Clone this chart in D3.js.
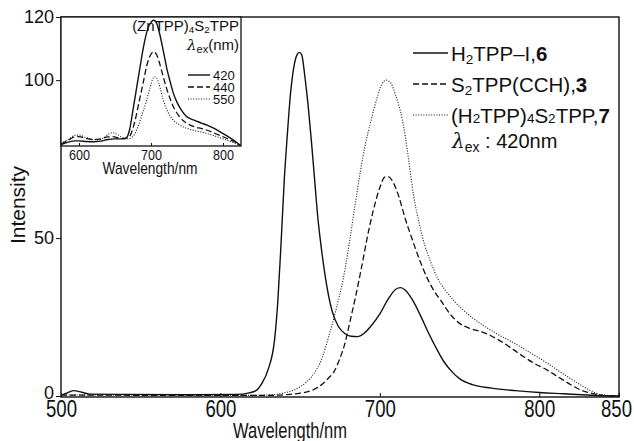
<!DOCTYPE html>
<html>
<head>
<meta charset="utf-8">
<script src="https://cdn.jsdelivr.net/npm/d3@7"></script>
<style>
  body { margin: 0; background: #fff; }
  svg { display: block; }
  text { font-family: Arial, "Liberation Sans", sans-serif; fill: #111; }
</style>
</head>
<body>
<div id="chart"></div>
<script>
// main spectra, excitation 420 nm
const wl6 = [500, 503, 508, 513, 518, 540, 580, 610, 618, 622, 626, 630, 634, 636, 638, 640, 642, 644, 646, 648, 649.5, 651, 653, 655, 657, 659, 661, 663, 666, 670, 674, 678, 682, 686, 690, 695, 700, 705, 710, 713, 716, 720, 725, 730, 735, 740, 745, 750, 758, 770, 785, 800, 815, 830, 840, 850];
const int6 = [0.2, 0.8, 1.7, 1.2, 0.6, 0.5, 0.4, 0.5, 1.0, 1.6, 4, 8.5, 18, 30, 48, 68, 83, 96, 104, 108, 108.8, 108, 101, 92, 81, 69, 57, 48, 37, 27, 22, 19.8, 18.9, 18.8, 19.8, 22.5, 26, 30.5, 33.8, 34.3, 33.5, 30.8, 26, 20.5, 15.5, 11, 7.8, 5.5, 3.6, 2.5, 1.7, 1.1, 0.7, 0.3, 0.1, 0];

const wl3 = [500, 520, 560, 600, 630, 640, 650, 658, 664, 668, 671, 675, 678, 681, 685, 689, 692, 696, 700, 703, 705, 708, 712, 716, 720, 725, 730, 735, 738, 744, 750, 757, 764, 770, 777, 784, 790, 797, 805, 812, 820, 826, 833, 840, 850];
const int3 = [0.3, 0.3, 0.2, 0.2, 0.2, 0.4, 0.9, 1.9, 3.8, 5.8, 7.5, 12, 16.5, 23, 32, 42, 50, 59, 66, 69.3, 69.5, 68, 63, 56, 50, 43, 37, 32.5, 30.4, 26, 23, 21.3, 20.3, 19, 17, 14.6, 12.5, 10.3, 8.2, 6, 3.5, 1.9, 0.8, 0.2, 0];

const wl7 = [500, 560, 620, 629, 640, 650, 657, 664, 668, 673, 677, 681, 684, 687.6, 691, 694, 698, 701, 704, 707, 710, 713, 716, 718, 721, 725, 728, 731.5, 736, 741, 746, 755, 763, 773, 784, 795, 805, 815, 826, 833, 838, 850];
const int7 = [0.3, 0.3, 0.2, 0.3, 1.0, 2.9, 6, 12.4, 19, 28.3, 37, 49, 59, 70.5, 80, 86.3, 94, 98.5, 100, 99, 95, 90, 82, 75, 64, 54, 48, 43, 37.5, 33.5, 30.4, 26, 23, 19.8, 16.8, 13.5, 10.4, 7, 3.5, 1.5, 0.5, 0];

// inset: (ZnTPP)4S2TPP at three excitation wavelengths, relative scale
const wlA = [575, 585, 595, 600, 610, 620, 630, 640, 650, 660, 666, 670, 675, 680, 685, 690, 695, 700, 704, 708, 712, 717, 722, 727, 731, 736, 742, 749, 760, 770, 777, 787, 796, 805, 815, 824];
const intA = [1, 3, 4, 4, 3.5, 3.3, 3.8, 5, 5.5, 5.5, 6.5, 12, 28, 45, 62, 78, 90, 96, 97.5, 95, 87, 74, 60, 49, 41, 34, 28, 23, 20, 17.8, 16.3, 13.8, 11, 8, 4.5, 0.5];

const wlB = [575, 585, 593, 600, 610, 620, 630, 640, 647, 655, 663, 667, 671, 675, 678, 683, 689, 694, 698, 701, 704, 708, 712, 717, 722, 727, 731, 738, 745, 750, 760, 770, 777, 790, 805, 815, 824];
const intB = [1.5, 4.5, 6.8, 7.2, 5.8, 5, 5.5, 7, 7.2, 6.2, 5.8, 6.5, 8, 14, 20, 33, 48.6, 62, 69, 72, 73, 70.5, 64, 53.7, 44, 36, 30.5, 24, 19.5, 17.6, 15, 13.5, 12.4, 9.5, 6, 3.5, 0.5];

const wlC = [575, 585, 593, 600, 610, 620, 627, 635, 642, 647, 653, 660, 664, 668, 673, 677, 682, 688, 694, 699, 702, 705, 708, 711, 714, 717, 722, 727, 731, 740, 750, 760, 770, 777, 790, 805, 815, 824];
const intC = [2, 5, 8, 8.5, 6.5, 5, 4.7, 6.5, 9.5, 10.3, 9, 6.5, 5.4, 5.5, 6.5, 9, 15, 25, 35.7, 46, 51.5, 53.7, 52.5, 48.5, 42, 35.7, 28, 23, 20, 16.3, 13.7, 12, 10.8, 9.8, 7.5, 4.6, 2.5, 0.3];

const xTicks = [500, 600, 700, 800, 850];
const yTicks = [0, 50, 100, 120];
const insetTicks = [600, 700, 800];
const mainLegend = ['H2TPP-I,6', 'S2TPP(CCH),3', '(H2TPP)4S2TPP,7'];
const insetLegend = ['420', '440', '550'];

const W = 634, H = 441;
const m = { left: 61, right: 619, top: 17, bottom: 396 };

const svg = d3.select('#chart').append('svg')
    .attr('width', W)
    .attr('height', H);

const x = d3.scaleLinear().domain([500, 850]).range([m.left, m.right]);
const y = d3.scaleLinear().domain([0, 120]).range([m.bottom, m.top]);

const styles = [
    { dash: null, width: 1.4 },
    { dash: '6,3', width: 1.3 },
    { dash: '1,1.6', width: 1.1 }
];

function zip(a, b) {
    return a.map((v, i) => [v, b[i]]);
}

// squeeze text to a narrow look (no condensed font installed)
function squeeze(sel, w) {
    sel.attr('textLength', w).attr('lengthAdjust', 'spacingAndGlyphs');
}

// main curves
const line = d3.line()
    .x(d => x(d[0]))
    .y(d => y(d[1]))
    .curve(d3.curveMonotoneX);

[zip(wl6, int6), zip(wl3, int3), zip(wl7, int7)].forEach((d, i) => {
    svg.append('path')
        .datum(d)
        .attr('d', line)
        .attr('fill', 'none')
        .attr('stroke', '#111')
        .attr('stroke-width', styles[i].width)
        .attr('stroke-dasharray', styles[i].dash);
});

// frame
svg.append('rect')
    .attr('x', m.left)
    .attr('y', m.top)
    .attr('width', m.right - m.left)
    .attr('height', m.bottom + 1 - m.top)
    .attr('fill', 'none')
    .attr('stroke', '#111')
    .attr('stroke-width', 1.4);

// x axis
const gx = svg.append('g')
    .attr('transform', `translate(0,${m.bottom + 1})`)
    .call(d3.axisBottom(x).tickValues(xTicks).tickSize(-4).tickPadding(3).tickFormat(d3.format('d')));
gx.select('.domain').remove();
gx.selectAll('line').attr('stroke', '#111');
gx.selectAll('text')
    .style('font-size', '24px')
    .attr('dy', '0.72em')
    .attr('fill', '#111')
    .attr('x', d => d === 850 ? -3 : 0)
    .call(squeeze, 31);

// y axis
const gy = svg.append('g')
    .attr('transform', `translate(${m.left},0)`)
    .call(d3.axisLeft(y).tickValues(yTicks).tickSize(5).tickPadding(2));
gy.select('.domain').remove();
gy.selectAll('line').attr('stroke', '#111');
gy.selectAll('text')
    .style('font-size', '18px')
    .attr('dy', d => d === 0 ? '0.15em' : '0.32em')
    .attr('fill', '#111');

svg.append('text')
    .attr('x', 290)
    .attr('y', 438)
    .attr('text-anchor', 'middle')
    .style('font-size', '22px')
    .text('Wavelength/nm')
    .call(squeeze, 114);

svg.append('text')
    .attr('transform', 'translate(25,205) rotate(-90)')
    .attr('text-anchor', 'middle')
    .style('font-size', '21px')
    .text('Intensity');

// chemical-ish labels: digits after letters become small (optionally lowered)
function chem(sel, label, size, sub) {
    let parts = label.match(/[A-Za-z()\-]+|\d|,\d/g);
    parts.forEach(p => {
        if (p[0] === ',') {
            sel.append('tspan').text(',');
            sel.append('tspan').style('font-weight', 'bold').text(p.slice(1));
        } else if (/^\d$/.test(p)) {
            let t = sel.append('tspan').style('font-size', (size * 0.66) + 'px').text(p);
            if (sub) t.attr('baseline-shift', '-22%');
        } else {
            sel.append('tspan').text(p.replace('-', '\u2013'));
        }
    });
}

// main legend
const legY = [53, 84, 115];
mainLegend.forEach((lab, i) => {
    svg.append('line')
        .attr('x1', 413).attr('x2', 448)
        .attr('y1', legY[i]).attr('y2', legY[i])
        .attr('stroke', '#111')
        .attr('stroke-width', styles[i].width)
        .attr('stroke-dasharray', styles[i].dash);
    let t = svg.append('text')
        .attr('x', 451)
        .attr('y', legY[i] + 7.5)
        .style('font-size', '20.5px');
    chem(t, lab, 20.5, i < 2);
});

let lx = svg.append('text')
    .attr('x', 452)
    .attr('y', 148)
    .style('font-size', '20px');
lx.append('tspan').style('font-family', '"DejaVu Serif", serif').style('font-style', 'italic').text('\u03bb');
lx.append('tspan').style('font-size', '14px').attr('baseline-shift', '-25%').text('ex');
lx.append('tspan').text(' : 420nm');

// inset
const ins = { left: 61, right: 241, top: 17, bottom: 146 };
const xi = d3.scaleLinear().domain([575, 825]).range([ins.left, ins.right]);
const yi = d3.scaleLinear().domain([0, 100]).range([ins.bottom, ins.top]);

const gi = svg.append('g');
gi.append('rect')
    .attr('x', ins.left)
    .attr('y', ins.top)
    .attr('width', ins.right - ins.left)
    .attr('height', ins.bottom - ins.top)
    .attr('fill', '#fff')
    .attr('stroke', '#111')
    .attr('stroke-width', 1.3);

const lineI = d3.line()
    .x(d => xi(d[0]))
    .y(d => yi(d[1]))
    .curve(d3.curveMonotoneX);

[zip(wlA, intA), zip(wlB, intB), zip(wlC, intC)].forEach((d, i) => {
    gi.append('path')
        .datum(d)
        .attr('d', lineI)
        .attr('fill', 'none')
        .attr('stroke', '#111')
        .attr('stroke-width', styles[i].width)
        .attr('stroke-dasharray', styles[i].dash);
});

const gxi = gi.append('g')
    .attr('transform', `translate(0,${ins.bottom})`)
    .call(d3.axisBottom(xi).tickValues(insetTicks).tickSize(-3).tickPadding(3));
gxi.select('.domain').remove();
gxi.selectAll('line').attr('stroke', '#111');
gxi.selectAll('text')
    .style('font-size', '15px')
    .attr('fill', '#111')
    .call(squeeze, 21);

gi.append('text')
    .attr('x', 150)
    .attr('y', 174)
    .attr('text-anchor', 'middle')
    .style('font-size', '17px')
    .text('Wavelength/nm')
    .call(squeeze, 95);

let tt = gi.append('text')
    .attr('x', 239)
    .attr('y', 31)
    .attr('text-anchor', 'end')
    .style('font-size', '15px');
chem(tt, '(ZnTPP)4S2TPP', 15, true);

let tl = gi.append('text')
    .attr('x', 239)
    .attr('y', 50)
    .attr('text-anchor', 'end')
    .style('font-size', '15px');
tl.append('tspan').style('font-family', '"DejaVu Serif", serif').style('font-style', 'italic').text('\u03bb');
tl.append('tspan').style('font-size', '11px').attr('baseline-shift', '-25%').text('ex');
tl.append('tspan').text('(nm)');

const insY = [75, 87, 99];
insetLegend.forEach((lab, i) => {
    gi.append('line')
        .attr('x1', 188).attr('x2', 210)
        .attr('y1', insY[i]).attr('y2', insY[i])
        .attr('stroke', '#111')
        .attr('stroke-width', styles[i].width)
        .attr('stroke-dasharray', styles[i].dash);
    gi.append('text')
        .attr('x', 213)
        .attr('y', insY[i] + 5)
        .style('font-size', '13px')
        .text(lab);
});
</script>
</body>
</html>
